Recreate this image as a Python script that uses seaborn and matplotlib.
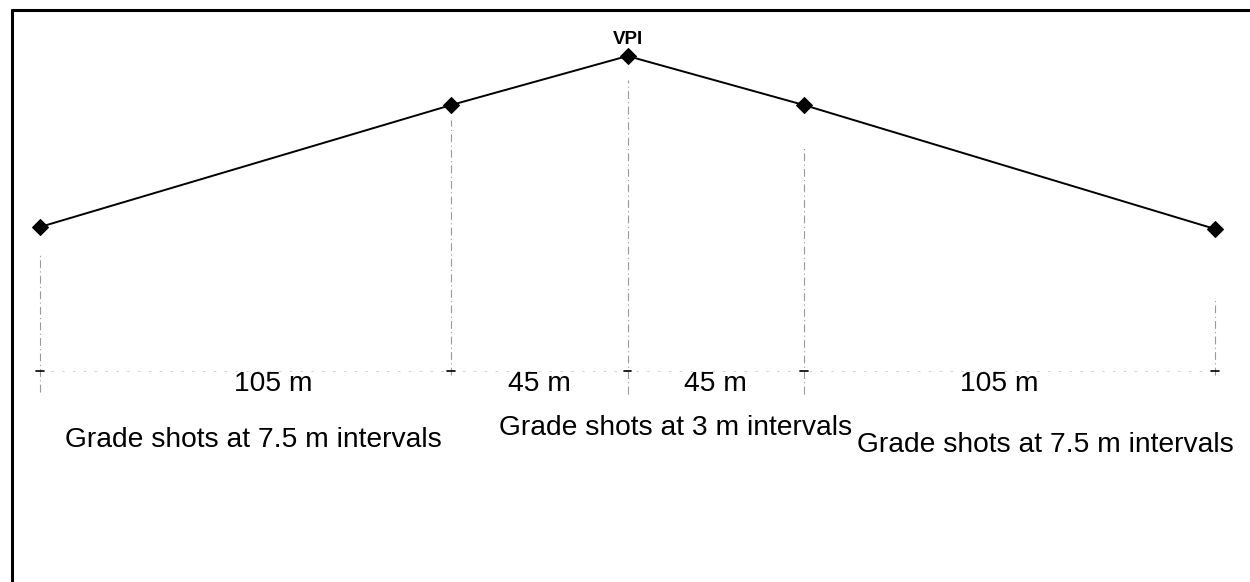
import matplotlib
matplotlib.use("Agg")
import matplotlib.pyplot as plt
from matplotlib.lines import Line2D
import seaborn as sns
import pandas as pd

# ---- data ----
stations = [0, 105, 150, 195, 300]           # m along alignment
elevations = [100.0, 104.88, 106.84, 104.88, 99.92]
segment_labels = ["105 m", "45 m", "45 m", "105 m"]
segment_label_x = [59.5, 127.5, 172.5, 245]
shot_labels = ["Grade shots at 7.5 m intervals",
               "Grade shots at 3 m intervals",
               "Grade shots at 7.5 m intervals"]
shot_label_x = [54.4, 162.2, 256.6]
vpi_label = "VPI"

sns.set_theme(style="white")
plt.rcParams['font.family'] = ['Liberation Sans', 'DejaVu Sans']

W, H = 1250, 582
fig = plt.figure(figsize=(12.5, 5.82), dpi=100)
ax = fig.add_axes([0, 0, 1, 1])
px_per_m = 3.917
x0_px = 40
ax.set_xlim(-x0_px / px_per_m, (W - x0_px) / px_per_m)
y0_px, px_per_unit = 227, 25
ax.set_ylim(100 - (H - y0_px) / px_per_unit, 100 + y0_px / px_per_unit)
ax.axis("off")

def fy(py):
    return 1 - py / H

df = pd.DataFrame({"station": stations, "elev": elevations})
sns.lineplot(data=df, x="station", y="elev", ax=ax, color="black",
             linewidth=1.4, marker="D", markersize=8, markeredgecolor="black",
             legend=False)

# vertical guide lines (pixel extents, layout)
v_top = [255, 120, 80, 145, 300]
v_bot = [392, 375, 394, 394, 375]
for s, t, b in zip(stations, v_top, v_bot):
    ax.axvline(s, ymin=fy(b), ymax=fy(t), color="#777777", lw=0.8,
               linestyle=(0, (7, 3, 1, 3)), alpha=0.75)
# horizontal guide line
ax.plot([stations[0], stations[-1]], [fy(371), fy(371)],
        transform=ax.get_xaxis_transform(), color="#aaaaaa", lw=0.6,
        linestyle=(0, (3, 10)), alpha=0.6)
for s in stations:
    ax.plot([s - 1, s + 1], [fy(371), fy(371)],
            transform=ax.get_xaxis_transform(), color="black", lw=1.2)

for lbl, x in zip(segment_labels, segment_label_x):
    ax.text(x, fy(384), lbl, transform=ax.get_xaxis_transform(),
            ha="center", va="center", fontsize=20.3, color="black")

shot_y = [440, 428, 445]
for lbl, x, y in zip(shot_labels, shot_label_x, shot_y):
    ax.text(x, fy(y), lbl, transform=ax.get_xaxis_transform(),
            ha="center", va="center", fontsize=20.3, color="black")

ax.text(stations[2], fy(40), vpi_label, transform=ax.get_xaxis_transform(),
        ha="center", va="center", fontsize=13.5, fontweight="bold", color="black")

# frame (top and left only)
fig.add_artist(Line2D([12 / W, 1], [fy(10), fy(10)], color="black", lw=2.2))
fig.add_artist(Line2D([12 / W, 12 / W], [0, fy(10)], color="black", lw=2.2))

fig.savefig("out.png", dpi=100, facecolor="white")
